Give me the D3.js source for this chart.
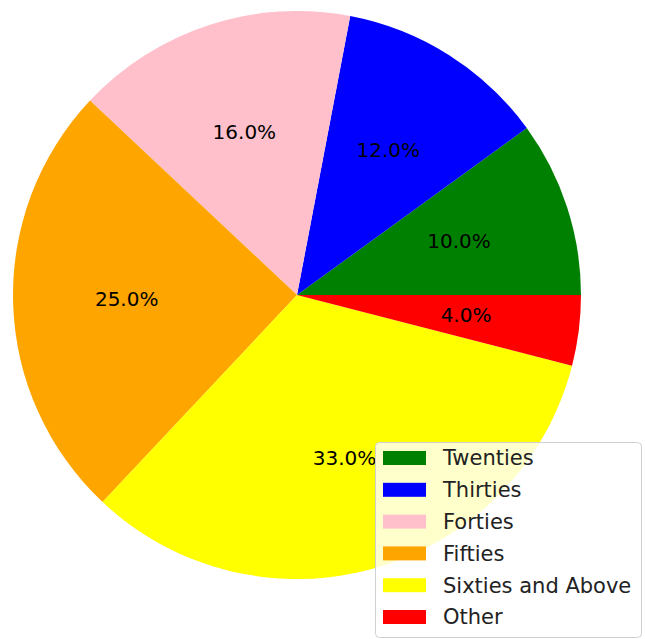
<!DOCTYPE html>
<html>
<head>
<meta charset="utf-8">
<script src="https://cdn.jsdelivr.net/npm/d3@7"></script>
<style>
  body { margin: 0; background: #fff; }
  svg { display: block; font-family: "DejaVu Sans", sans-serif; }
</style>
</head>
<body>
<div id="chart"></div>
<script>
// chart data
var categories = ["Twenties", "Thirties", "Forties", "Fifties", "Sixties and Above", "Other"];
var shares = [10, 12, 16, 25, 33, 4];
var sliceColors = ["green", "blue", "pink", "orange", "yellow", "red"];

var width = 645, height = 639;
var cx = 297, cy = 295, radius = 284;

var svg = d3.select("#chart")
    .append("svg")
    .attr("width", width)
    .attr("height", height);

var g = svg.append("g")
    .attr("transform", "translate(" + cx + "," + cy + ")");

// matplotlib style: start at 3 o'clock, go counterclockwise
var pie = d3.pie()
    .sort(null)
    .value(function (d) { return d; })
    .startAngle(Math.PI / 2)
    .endAngle(Math.PI / 2 - 2 * Math.PI);

var arc = d3.arc().innerRadius(0).outerRadius(radius);
var labelArc = d3.arc().innerRadius(radius * 0.6).outerRadius(radius * 0.6);

var total = d3.sum(shares);
var arcs = pie(shares);

g.selectAll("path.slice")
    .data(arcs)
    .enter()
    .append("path")
    .attr("class", "slice")
    .attr("d", arc)
    .attr("fill", function (d, i) { return sliceColors[i]; });

g.selectAll("text.pct")
    .data(arcs)
    .enter()
    .append("text")
    .attr("class", "pct")
    .attr("transform", function (d) { return "translate(" + labelArc.centroid(d) + ")"; })
    .attr("text-anchor", "middle")
    .attr("dy", "0.3em")
    .style("font-size", "20px")
    .style("fill", "#000")
    .text(function (d) { return (d.data / total * 100).toFixed(1) + "%"; });

// legend
var legend = svg.append("g").attr("transform", "translate(375,442)");
legend.append("rect")
    .attr("x", 0.5).attr("y", 0.5)
    .attr("width", 266).attr("height", 195)
    .attr("rx", 4)
    .attr("fill", "rgba(255,255,255,0.8)")
    .attr("stroke", "#d0d0d0");

var rows = legend.selectAll("g.row")
    .data(categories)
    .enter()
    .append("g")
    .attr("class", "row")
    .attr("transform", function (d, i) { return "translate(0," + (16 + i * 31.8) + ")"; });

rows.append("rect")
    .attr("x", 8).attr("y", -7)
    .attr("width", 43).attr("height", 14)
    .attr("fill", function (d, i) { return sliceColors[i]; });

rows.append("text")
    .attr("x", 68)
    .attr("dy", "0.35em")
    .style("font-size", "21px")
    .style("fill", "#222")
    .text(function (d) { return d; });
</script>
</body>
</html>
